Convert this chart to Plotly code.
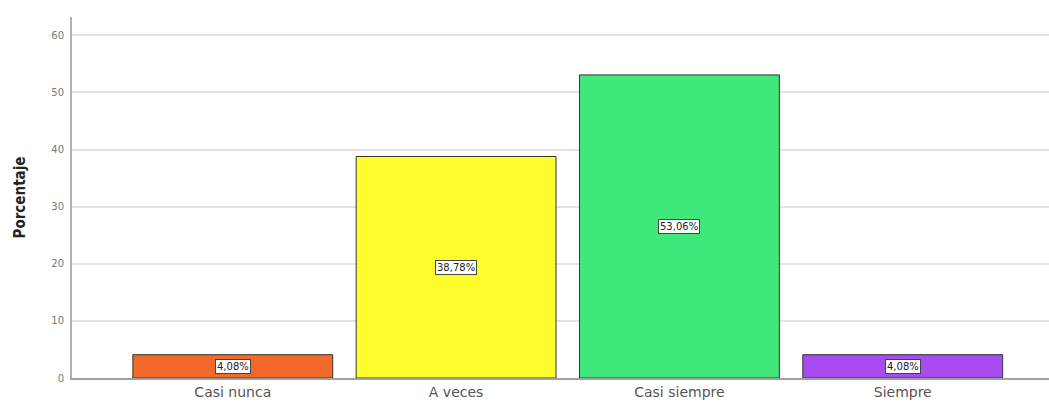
import plotly.graph_objects as go

categories = ["Casi nunca", "A veces", "Casi siempre", "Siempre"]
percentages = [4.08, 38.78, 53.06, 4.08]
value_labels = ["4,08%", "38,78%", "53,06%", "4,08%"]
bar_colors = ["#F2692A", "#FFFC2C", "#40E87C", "#A64CF0"]
y_ticks = [0, 10, 20, 30, 40, 50, 60]

fig = go.Figure()
fig.add_trace(go.Bar(
    x=categories,
    y=percentages,
    marker=dict(color=bar_colors, line=dict(color="#333333", width=1)),
    width=0.895,
    hoverinfo="x+y",
))

for cat, val, lab in zip(categories, percentages, value_labels):
    fig.add_annotation(
        x=cat, y=val / 2, text=lab, showarrow=False,
        font=dict(family="DejaVu Sans", size=10, color="#222222"),
        bgcolor="white", bordercolor="#444444", borderwidth=1, borderpad=1,
    )

fig.update_layout(
    width=1049, height=403,
    margin=dict(l=72, r=0, t=17, b=25),
    paper_bgcolor="white", plot_bgcolor="white",
    showlegend=False,
    xaxis=dict(
        range=[-0.72, 3.655],
        showline=True, linecolor="#a0a0a0", linewidth=2,
        showgrid=False, ticks="",
        tickfont=dict(family="DejaVu Sans", size=14, color="#555555"),
        fixedrange=True,
    ),
    yaxis=dict(
        range=[0, 63.2],
        tickvals=y_ticks,
        showline=True, linecolor="#b0b0b0", linewidth=2,
        showgrid=True, gridcolor="#e3e3e3", gridwidth=1.5,
        zeroline=False, ticks="outside", ticklen=4, tickcolor="rgba(0,0,0,0)",
        tickfont=dict(family="DejaVu Sans", size=10, color="#777777"),
        title=dict(text="<b>Porcentaje</b>", standoff=22,
                   font=dict(family="DejaVu Sans Condensed, Liberation Sans Narrow, Arial", size=15, color="#222222")),
        fixedrange=True,
    ),
)

fig.write_html("out.html")
